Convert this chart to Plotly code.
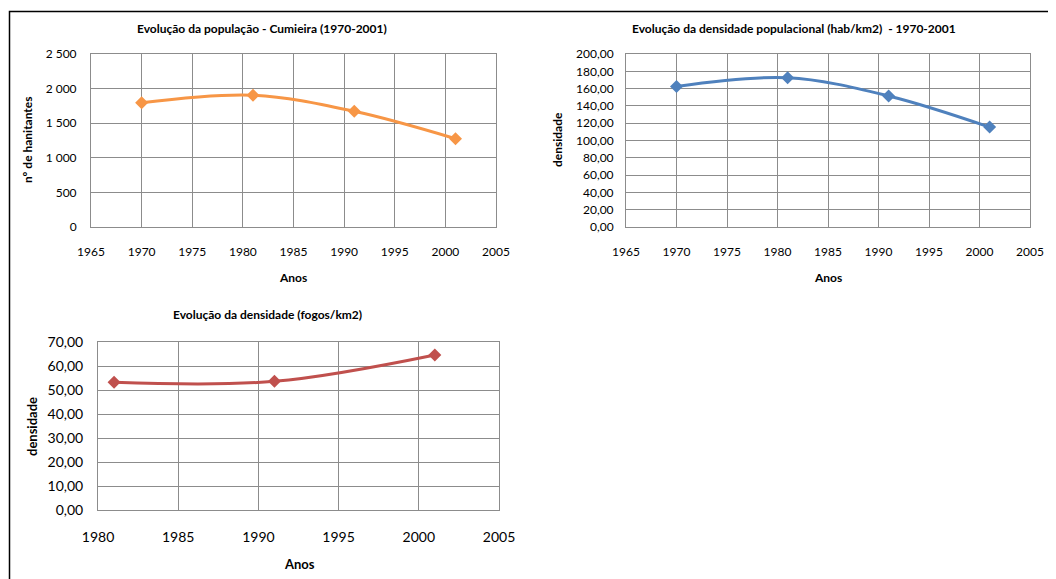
import plotly.graph_objects as go

# Data
pop_years = [1970, 1981, 1991, 2001]
pop_values = [1795, 1905, 1672, 1276]

dens_years = [1970, 1981, 1991, 2001]
dens_values = [162.5, 172.5, 151.5, 115.5]

fogos_years = [1981, 1991, 2001]
fogos_values = [53.2, 53.6, 64.6]

titles = [
    "Evolução da população - Cumieira (1970-2001)",
    "Evolução da densidade populacional (hab/km2)  - 1970-2001",
    "Evolução da densidade (fogos/km2)",
]
ytitles = ["nº de hanitantes", "densidade", "densidade"]
xtitle = "Anos"

OFF = 8  # page body margin
W, H = 1056 - OFF, 579 - OFF
FONT = "Lato"
GRID = "#8c8c8c"

def px(x):
    return (x - OFF) / W

def py(y):
    return 1 - (y - OFF) / H

fig = go.Figure()

fig.add_trace(go.Scatter(x=pop_years, y=pop_values, mode="lines+markers",
                         line=dict(color="#F79646", width=3, shape="spline"),
                         marker=dict(symbol="diamond", size=10, color="#F79646"),
                         xaxis="x", yaxis="y", showlegend=False))
fig.add_trace(go.Scatter(x=dens_years, y=dens_values, mode="lines+markers",
                         line=dict(color="#4F81BD", width=3, shape="spline"),
                         marker=dict(symbol="diamond", size=10, color="#4F81BD"),
                         xaxis="x2", yaxis="y2", showlegend=False))
fig.add_trace(go.Scatter(x=fogos_years, y=fogos_values, mode="lines+markers",
                         line=dict(color="#C0504D", width=3, shape="spline"),
                         marker=dict(symbol="diamond", size=10, color="#C0504D"),
                         xaxis="x3", yaxis="y3", showlegend=False))

common = dict(showgrid=True, gridcolor=GRID, gridwidth=1, showline=True, mirror=True,
              linecolor=GRID, linewidth=1, zeroline=False, ticks="",
              tickfont=dict(family=FONT, size=12, color="#000"))
big = {**common, "tickfont": dict(family=FONT, size=14, color="#000")}

fig.update_layout(
    width=W, height=H,
    margin=dict(l=0, r=0, t=0, b=0, autoexpand=False),
    paper_bgcolor="white", plot_bgcolor="white",
    separators=", ",
    xaxis=dict(domain=[px(91), px(496)], anchor="y", range=[1965, 2005], dtick=5, tick0=1965,
               ticklabelstandoff=14, **common),
    yaxis=dict(domain=[py(227), py(54)], anchor="x", range=[0, 2500], dtick=500,
               tickformat=",d", ticklabelstandoff=11, **common),
    xaxis2=dict(domain=[px(626), px(1030)], anchor="y2", range=[1965, 2005], dtick=5, tick0=1965,
                ticklabelstandoff=14, **common),
    yaxis2=dict(domain=[py(227), py(54)], anchor="x2", range=[0, 200], dtick=20,
                tickformat=".2f", ticklabelstandoff=9, **common),
    xaxis3=dict(domain=[px(98), px(499)], anchor="y3", range=[1980, 2005], dtick=5, tick0=1980,
                ticklabelstandoff=14, **big),
    yaxis3=dict(domain=[py(510), py(342)], anchor="x3", range=[0, 70], dtick=10,
                tickformat=".2f", ticklabelstandoff=11, **big),
)

ann = []
# chart titles
for t, (x, y, s) in zip(titles, [(262, 28, 12), (794, 28, 12), (267, 314, 12)]):
    ann.append(dict(text=f"<b>{t}</b>", x=px(x), y=py(y), xref="paper", yref="paper",
                    showarrow=False, font=dict(family=FONT, size=s, color="#000"),
                    xanchor="center", yanchor="middle"))
# x axis titles
for (x, y, s) in [(293, 277, 12), (828, 277, 12), (299, 564, 13)]:
    ann.append(dict(text=f"<b>{xtitle}</b>", x=px(x), y=py(y), xref="paper", yref="paper",
                    showarrow=False, font=dict(family=FONT, size=s, color="#000"),
                    xanchor="center", yanchor="middle"))
# y axis titles
for t, (x, y, s) in zip(ytitles, [(27, 140, 12), (557, 140, 12), (32, 427, 13)]):
    ann.append(dict(text=f"<b>{t}</b>", x=px(x), y=py(y), xref="paper", yref="paper",
                    showarrow=False, textangle=-90, font=dict(family=FONT, size=s, color="#000"),
                    xanchor="center", yanchor="middle"))
fig.update_layout(annotations=ann)

# outer frame
fig.add_shape(type="rect", xref="paper", yref="paper",
              x0=px(9.5), x1=1.05, y0=-0.05, y1=py(11.5),
              line=dict(color="black", width=1.5), fillcolor="rgba(0,0,0,0)")

fig.write_html("out.html")
